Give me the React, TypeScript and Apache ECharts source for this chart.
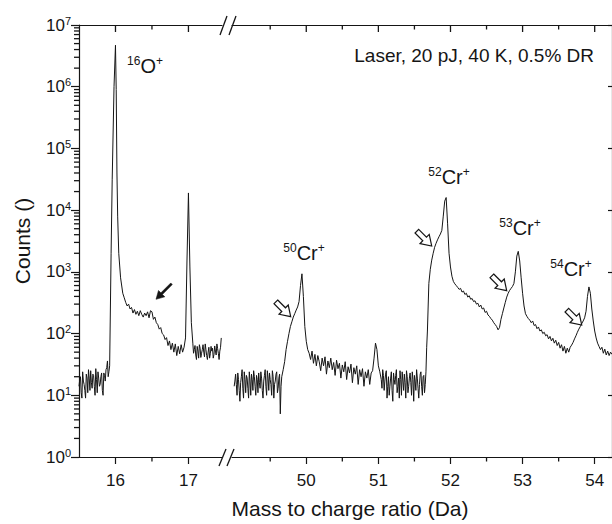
import React, { useEffect, useRef } from 'react';
import * as echarts from 'echarts';

// ---- Data (mass in Da, counts) ----
const oxygenRegion: [number, number][] = [
  [15.50, 14], [15.51, 18], [15.52, 20], [15.53, 11], [15.54, 9], [15.55, 24], [15.56, 17], [15.57, 15],
  [15.58, 12], [15.59, 9], [15.60, 22], [15.61, 19], [15.62, 11], [15.63, 26], [15.64, 19], [15.65, 12],
  [15.66, 25], [15.67, 16], [15.68, 13], [15.69, 22], [15.70, 21], [15.71, 14], [15.72, 10], [15.73, 27],
  [15.74, 18], [15.75, 11], [15.76, 24], [15.77, 19], [15.78, 14], [15.79, 15], [15.80, 20], [15.81, 23],
  [15.82, 12], [15.83, 10], [15.84, 23], [15.85, 21], [15.86, 17], [15.87, 26], [15.88, 28], [15.89, 36],
  [15.90, 20], [15.91, 24], [15.92, 30], [15.94, 2000],
  [15.955, 31000], [15.98, 1000000], [16.00, 4700000], [16.01, 900000], [16.02, 40000], [16.03, 8000],
  [16.045, 2000], [16.07, 800], [16.10, 450], [16.12, 380], [16.14, 320], [16.16, 280], [16.18, 300],
  [16.20, 250], [16.22, 265], [16.24, 215], [16.26, 245], [16.28, 205], [16.30, 230], [16.32, 195],
  [16.34, 235], [16.36, 205], [16.38, 185], [16.40, 215], [16.42, 195], [16.44, 225], [16.46, 180],
  [16.48, 235], [16.50, 225], [16.52, 170], [16.54, 185], [16.56, 150], [16.58, 140], [16.60, 118],
  [16.62, 125], [16.64, 100], [16.66, 95], [16.68, 80], [16.70, 86], [16.72, 64], [16.74, 76], [16.76, 55],
  [16.78, 70], [16.80, 50], [16.82, 68], [16.84, 44], [16.86, 62], [16.88, 47], [16.90, 66], [16.92, 50],
  [16.94, 60], [16.96, 85], [16.98, 1500], [17.00, 19000], [17.02, 1200], [17.04, 150], [17.06, 70],
  [17.07, 48], [17.08, 55], [17.09, 64], [17.10, 45], [17.11, 38], [17.12, 62], [17.13, 52], [17.14, 40],
  [17.15, 66], [17.16, 58], [17.17, 41], [17.18, 48], [17.19, 55], [17.20, 66], [17.21, 50], [17.22, 42],
  [17.23, 68], [17.24, 55], [17.25, 44], [17.26, 38], [17.27, 50], [17.28, 60], [17.29, 40], [17.30, 47],
  [17.31, 62], [17.32, 52], [17.33, 58], [17.34, 40], [17.35, 46], [17.36, 63], [17.37, 52], [17.38, 45],
  [17.39, 68], [17.40, 57], [17.41, 48], [17.42, 38], [17.43, 52], [17.44, 60], [17.45, 85],
];

const chromiumRegion: [number, number][] = [
  [49.00, 14], [49.01, 17], [49.02, 22], [49.03, 15], [49.04, 10], [49.05, 23], [49.06, 18], [49.07, 12],
  [49.08, 8], [49.09, 16], [49.10, 20], [49.11, 26], [49.12, 13], [49.13, 9], [49.14, 24], [49.15, 18],
  [49.16, 11], [49.17, 21], [49.18, 19], [49.19, 13], [49.20, 9], [49.21, 24], [49.22, 17], [49.23, 10],
  [49.24, 22], [49.25, 18], [49.26, 12], [49.27, 25], [49.28, 20], [49.29, 14], [49.30, 10], [49.31, 21],
  [49.32, 18], [49.33, 11], [49.34, 23], [49.35, 16], [49.36, 13], [49.37, 24], [49.38, 19], [49.39, 12],
  [49.40, 9], [49.41, 17], [49.42, 21], [49.43, 26], [49.44, 14], [49.45, 10], [49.46, 25], [49.47, 19],
  [49.48, 12], [49.49, 23], [49.50, 18], [49.51, 15], [49.52, 10], [49.53, 25], [49.54, 20], [49.55, 9],
  [49.56, 15], [49.57, 17], [49.58, 22], [49.59, 24], [49.60, 11], [49.61, 13], [49.62, 19], [49.63, 22],
  [49.64, 5], [49.65, 14], [49.66, 20], [49.68, 26], [49.70, 35], [49.72, 55], [49.74, 75], [49.76, 100],
  [49.78, 130], [49.80, 155], [49.82, 185], [49.84, 210], [49.86, 240], [49.88, 270], [49.90, 330],
  [49.92, 600], [49.94, 930], [49.96, 400], [49.98, 130], [50.00, 75], [50.02, 55], [50.04, 48],
  [50.06, 38], [50.08, 52], [50.10, 33], [50.12, 46], [50.14, 30], [50.16, 44], [50.18, 35], [50.20, 25],
  [50.22, 40], [50.24, 30], [50.26, 42], [50.28, 22], [50.30, 36], [50.32, 28], [50.34, 40], [50.36, 26],
  [50.38, 34], [50.40, 21], [50.42, 37], [50.44, 27], [50.46, 33], [50.48, 19], [50.50, 31], [50.52, 24],
  [50.54, 35], [50.56, 18], [50.58, 29], [50.60, 23], [50.62, 32], [50.64, 16], [50.66, 28], [50.68, 22],
  [50.70, 30], [50.72, 15], [50.74, 26], [50.76, 20], [50.78, 27], [50.80, 14], [50.82, 24], [50.84, 19],
  [50.86, 26], [50.88, 15], [50.90, 23], [50.92, 25], [50.94, 40], [50.96, 70], [50.98, 55], [51.00, 30],
  [51.02, 24], [51.04, 18], [51.05, 13], [51.06, 26], [51.07, 21], [51.08, 12], [51.09, 17], [51.10, 22],
  [51.11, 25], [51.12, 9], [51.13, 14], [51.14, 20], [51.15, 10], [51.16, 14], [51.17, 19], [51.18, 24],
  [51.19, 12], [51.20, 8], [51.21, 23], [51.22, 18], [51.23, 15], [51.24, 21], [51.25, 26], [51.26, 11],
  [51.27, 14], [51.28, 19], [51.29, 9], [51.30, 25], [51.31, 18], [51.32, 10], [51.33, 24], [51.34, 17],
  [51.35, 12], [51.36, 22], [51.37, 16], [51.38, 9], [51.39, 25], [51.40, 20], [51.41, 11], [51.42, 14],
  [51.43, 19], [51.44, 23], [51.45, 16], [51.46, 10], [51.47, 24], [51.48, 18], [51.49, 8], [51.50, 21],
  [51.51, 17], [51.52, 12], [51.53, 26], [51.54, 19], [51.55, 13], [51.56, 9], [51.57, 15], [51.58, 22],
  [51.59, 24], [51.60, 14], [51.61, 10], [51.62, 20], [51.63, 21], [51.64, 11], [51.65, 15], [51.66, 24],
  [51.67, 60], [51.68, 110], [51.70, 650], [51.72, 1100], [51.74, 1550], [51.76, 2000], [51.78, 2500],
  [51.80, 2900], [51.82, 3300], [51.84, 3700], [51.86, 4100], [51.88, 4700], [51.90, 8000], [51.92, 14000],
  [51.94, 16000], [51.96, 6000], [51.98, 2000], [52.00, 1200], [52.02, 850], [52.04, 700], [52.06, 640],
  [52.08, 600], [52.10, 560], [52.12, 520], [52.14, 540], [52.16, 470], [52.18, 490], [52.20, 430],
  [52.22, 450], [52.24, 390], [52.26, 410], [52.28, 360], [52.30, 370], [52.32, 330], [52.34, 340],
  [52.36, 300], [52.38, 310], [52.40, 270], [52.42, 290], [52.44, 250], [52.46, 260], [52.48, 220],
  [52.50, 230], [52.52, 200], [52.54, 190], [52.56, 175], [52.58, 165], [52.60, 150], [52.62, 140],
  [52.64, 130], [52.66, 115], [52.68, 125], [52.70, 170], [52.72, 210], [52.74, 260], [52.76, 320],
  [52.78, 390], [52.80, 450], [52.82, 500], [52.84, 540], [52.86, 580], [52.88, 650], [52.90, 1000],
  [52.92, 1800], [52.94, 2150], [52.96, 1500], [52.98, 800], [53.00, 450], [53.02, 280], [53.04, 210],
  [53.06, 190], [53.08, 175], [53.10, 165], [53.12, 150], [53.14, 160], [53.16, 135], [53.18, 140],
  [53.20, 120], [53.22, 128], [53.24, 110], [53.26, 115], [53.28, 100], [53.30, 105], [53.32, 92],
  [53.34, 96], [53.36, 82], [53.38, 90], [53.40, 76], [53.42, 84], [53.44, 70], [53.46, 78], [53.48, 64],
  [53.50, 72], [53.52, 58], [53.54, 66], [53.56, 52], [53.58, 62], [53.60, 48], [53.62, 58], [53.64, 50],
  [53.66, 60], [53.68, 65], [53.70, 72], [53.72, 82], [53.74, 92], [53.76, 105], [53.78, 118], [53.80, 130],
  [53.82, 145], [53.84, 160], [53.86, 180], [53.88, 230], [53.90, 400], [53.92, 570], [53.94, 450],
  [53.96, 250], [53.98, 160], [54.00, 110], [54.02, 85], [54.04, 70], [54.06, 62], [54.08, 55],
  [54.10, 60], [54.12, 48], [54.14, 56], [54.16, 45], [54.18, 52], [54.20, 44], [54.22, 50], [54.24, 46],
];

const leftMajorTicks = [16, 17];
const leftMinorTicks = [16.5];
const rightMajorTicks = [50, 51, 52, 53, 54];
const rightMinorTicks = [49.5, 50.5, 51.5, 52.5, 53.5];
const decadeExponents = [0, 1, 2, 3, 4, 5, 6];
const minorMultipliers = [2, 3, 4, 5, 6, 7, 8, 9];

const peakIsotopes = ['16', '50', '52', '53', '54'];
const peakElements = ['O', 'Cr', 'Cr', 'Cr', 'Cr'];
const conditionText = 'Laser, 20 pJ, 40 K, 0.5% DR';
const xTitle = 'Mass to charge ratio (Da)';
const yTitle = 'Counts ()';

// ---- Styling ----
const FONT = '"Liberation Sans", Arial, Helvetica, sans-serif';
const INK = '#151515';
const lineStyle = { color: INK, width: 1.2 };
const LEFT_MIN = 15.5;
const LEFT_MAX = 17.46;
const RIGHT_MIN = 48.97;
const RIGHT_MAX = 54.24;
const Y_MIN = 1;
const Y_MAX = 1e7;

export default function App() {
  const ref = useRef<HTMLDivElement>(null);

  useEffect(() => {
    if (!ref.current) return;
    const chart = echarts.init(ref.current, undefined, { renderer: 'svg' });

    const bottomAxis = (grid: number, min: number, max: number, major: number[]) => ({
      type: 'value', gridIndex: grid, position: 'bottom', min, max,
      axisLine: { show: true, onZero: false, lineStyle },
      axisTick: { show: true, customValues: major, length: 7, lineStyle },
      axisLabel: { show: true, customValues: major, fontSize: 17, color: INK, fontFamily: FONT, margin: 15 },
      splitLine: { show: false },
    });
    const topAxis = (grid: number, min: number, max: number) => ({
      type: 'value', gridIndex: grid, position: 'top', min, max,
      axisLine: { show: true, onZero: false, lineStyle },
      axisTick: { show: false },
      axisLabel: { show: false },
      splitLine: { show: false },
    });

    const tickStyle = { stroke: INK, lineWidth: 1.3 };
    // Mirror ticks on the top frame and half-Da minor ticks, placed with the axes' own scales.
    const xTickSeries = (xAxisIndex: number, yAxisIndex: number, major: number[], minor: number[]) => ({
      type: 'custom', xAxisIndex, yAxisIndex, silent: true, clip: false, z: 5,
      data: [...major.map((v) => [v, 7]), ...minor.map((v) => [v, 4.5])],
      renderItem: (_p: any, api: any) => {
        const v = api.value(0);
        const len = api.value(1);
        const topPt = api.coord([v, Y_MAX]);
        const botPt = api.coord([v, Y_MIN]);
        const children: any[] = [
          { type: 'line', shape: { x1: topPt[0], y1: topPt[1], x2: topPt[0], y2: topPt[1] + len }, style: tickStyle },
        ];
        if (len < 5) {
          children.push({ type: 'line', shape: { x1: botPt[0], y1: botPt[1], x2: botPt[0], y2: botPt[1] + len }, style: tickStyle });
        }
        return { type: 'group', children };
      },
    });
    // Logarithmic minor ticks (2..9 × 10^n) on the left axis.
    const yMinorSeries = {
      type: 'custom', xAxisIndex: 0, yAxisIndex: 0, silent: true, clip: false, z: 5,
      data: decadeExponents.flatMap((n) => minorMultipliers.map((k) => [LEFT_MIN, k * Math.pow(10, n)])),
      renderItem: (_p: any, api: any) => {
        const pt = api.coord([api.value(0), api.value(1)]);
        return { type: 'line', shape: { x1: pt[0] - 5, y1: pt[1], x2: pt[0], y2: pt[1] }, style: tickStyle };
      },
    };

    const hollowArrow = (x: number, y: number) => ({
      type: 'polygon', x, y, rotation: -Math.PI / 4, z: 10,
      shape: { points: [[-21, -2.6], [-10, -2.6], [-10, -6.5], [0, 0], [-10, 6.5], [-10, 2.6], [-21, 2.6]] },
      style: { fill: '#fff', stroke: INK, lineWidth: 1.2 },
    });

    const richLabel = (iso: string, el: string, x: number, y: number) => ({
      type: 'text', x, y, z: 10,
      style: {
        text: `{s|${iso}}{m|${el}}{s|+}`,
        align: 'center', verticalAlign: 'middle',
        rich: {
          s: { fontSize: 12, fontFamily: FONT, fill: INK, color: INK, verticalAlign: 'top', lineHeight: 12 },
          m: { fontSize: 20, fontFamily: FONT, fill: INK, color: INK, lineHeight: 22 },
        },
      },
    });

    const labelPos = [[145, 66], [304, 253], [449, 177], [520, 228], [571, 269]];
    const arrowTips = [[290.7, 316.7], [431.7, 246], [506.7, 290.7], [581.7, 325]];

    const breakLines = [
      [219, 466, 226, 449], [227, 466, 234, 449],
      [220, 35, 227, 16], [229, 35, 236, 16],
    ].map(([x1, y1, x2, y2]) => ({
      type: 'line', z: 10, shape: { x1, y1, x2, y2 }, style: { stroke: INK, lineWidth: 1.3 },
    }));

    chart.setOption({
      animation: false,
      backgroundColor: '#fff',
      grid: [
        { left: 79, top: 25, width: 143, height: 432 },
        { left: 232, top: 25, right: -1, height: 432 },
      ],
      xAxis: [
        bottomAxis(0, LEFT_MIN, LEFT_MAX, leftMajorTicks),
        bottomAxis(1, RIGHT_MIN, RIGHT_MAX, rightMajorTicks),
        topAxis(0, LEFT_MIN, LEFT_MAX),
        topAxis(1, RIGHT_MIN, RIGHT_MAX),
      ],
      yAxis: [
        {
          type: 'log', logBase: 10, gridIndex: 0, position: 'left', min: Y_MIN, max: Y_MAX, splitNumber: 7,
          axisLine: { show: true, onZero: false, lineStyle },
          axisTick: { show: true, length: 8, lineStyle },
          axisLabel: {
            show: true, margin: 8,
            formatter: (v: number) => `{b|10}{s|${Math.round(Math.log10(v))}}`,
            rich: {
              b: { fontSize: 17, fontFamily: FONT, color: INK, lineHeight: 20 },
              s: { fontSize: 11, fontFamily: FONT, color: INK, verticalAlign: 'top', lineHeight: 12 },
            },
          },
          splitLine: { show: false },
          minorTick: { show: false },
          name: yTitle, nameLocation: 'middle', nameGap: 46,
          nameTextStyle: { fontSize: 21, fontFamily: FONT, color: INK },
        },
        {
          type: 'log', logBase: 10, gridIndex: 1, position: 'right', min: Y_MIN, max: Y_MAX, splitNumber: 7,
          axisLine: { show: true, onZero: false, lineStyle },
          axisTick: { show: true, inside: true, length: 4, lineStyle },
          axisLabel: { show: false },
          splitLine: { show: false },
        },
      ],
      series: [
        {
          type: 'line', xAxisIndex: 0, yAxisIndex: 0, data: oxygenRegion,
          symbol: 'none', showSymbol: false, silent: true, clip: true,
          lineStyle: { color: INK, width: 1 },
        },
        {
          type: 'line', xAxisIndex: 1, yAxisIndex: 1, data: chromiumRegion,
          symbol: 'none', showSymbol: false, silent: true, clip: true,
          lineStyle: { color: INK, width: 1 },
        },
        xTickSeries(0, 0, leftMajorTicks, leftMinorTicks),
        xTickSeries(1, 1, rightMajorTicks, rightMinorTicks),
        yMinorSeries,
      ],
      graphic: [
        ...breakLines,
        ...peakIsotopes.map((iso, i) => richLabel(iso, peakElements[i], labelPos[i][0], labelPos[i][1])),
        ...arrowTips.map(([x, y]) => hollowArrow(x, y)),
        {
          type: 'polygon', x: 156, y: 299.3, rotation: (-3 * Math.PI) / 4, z: 10,
          shape: { points: [[-22, -1.1], [-8, -1.1], [-8, -4.5], [0, 0], [-8, 4.5], [-8, 1.1], [-22, 1.1]] },
          style: { fill: INK, stroke: INK, lineWidth: 0.5 },
        },
        {
          type: 'text', x: 594, y: 55, z: 10,
          style: { text: conditionText, fontSize: 19, fontFamily: FONT, fill: INK, align: 'right', verticalAlign: 'middle' },
        },
        {
          type: 'text', x: 350, y: 508, z: 10,
          style: { text: xTitle, fontSize: 21, fontFamily: FONT, fill: INK, align: 'center', verticalAlign: 'middle' },
        },
      ],
    });

    return () => chart.dispose();
  }, []);

  return (
    <div style={{ position: 'absolute', left: 0, top: 0, width: 612, height: 524, overflow: 'hidden', background: '#fff' }}>
      <div ref={ref} style={{ width: 612, height: 524 }} />
    </div>
  );
}
